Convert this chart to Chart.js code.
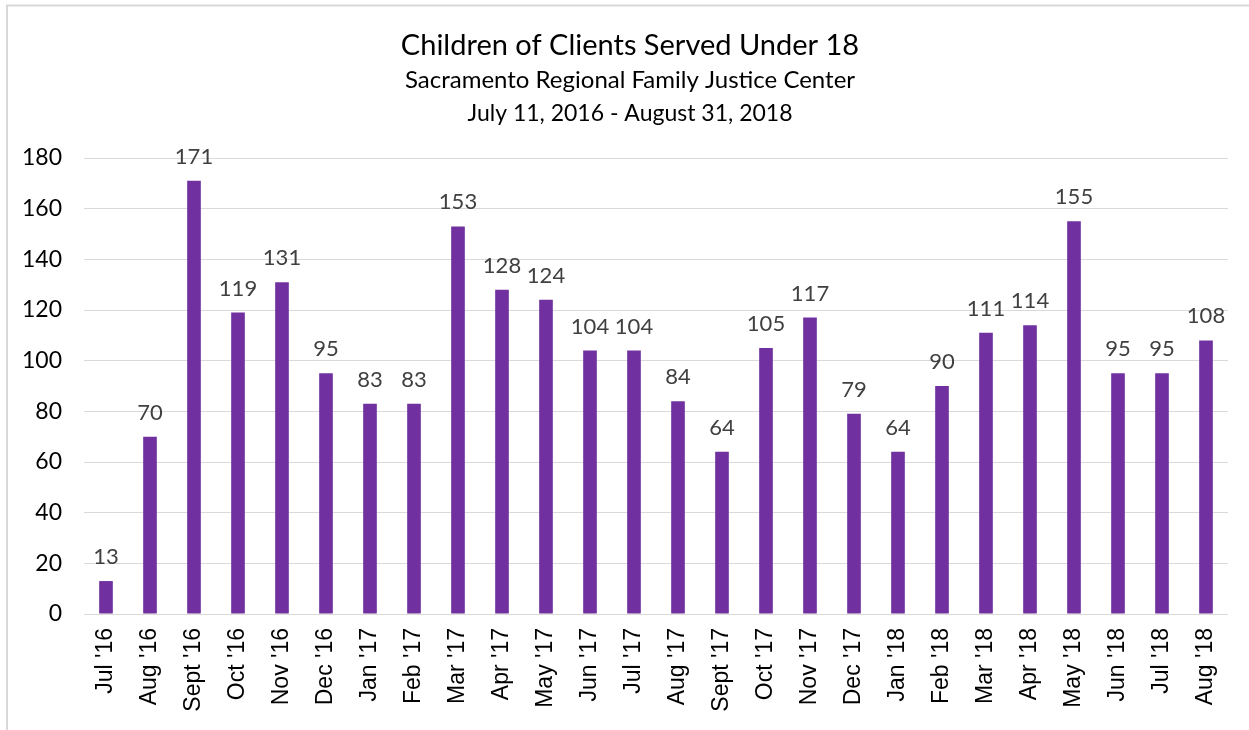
<!DOCTYPE html>
<html>
<head>
<meta charset="utf-8">
<script src="https://cdn.jsdelivr.net/npm/chart.js@4"></script>
<style>
html,body{margin:0;padding:0;background:#fff;}
#wrap{position:absolute;left:0;top:0;width:1249px;height:730px;}
</style>
</head>
<body>
<div id="wrap"><canvas id="c" width="1249" height="730"></canvas></div>
<script>
const categories = ["Jul '16","Aug '16","Sept '16","Oct '16","Nov '16","Dec '16","Jan '17","Feb '17","Mar '17","Apr '17","May '17","Jun '17","Jul '17","Aug '17","Sept '17","Oct '17","Nov '17","Dec '17","Jan '18","Feb '18","Mar '18","Apr '18","May '18","Jun '18","Jul '18","Aug '18"];
const values = [13,70,171,119,131,95,83,83,153,128,124,104,104,84,64,105,117,79,64,90,111,114,155,95,95,108];
const titleLines = ["Children of Clients Served Under 18","Sacramento Regional Family Justice Center","July 11, 2016 - August 31, 2018"];
const yTicks = [0,20,40,60,80,100,120,140,160,180];

const decor = {
  id:'decor',
  beforeDraw(chart){
    const ctx = chart.ctx;
    ctx.save();
    ctx.fillStyle = '#fff';
    ctx.fillRect(0,0,chart.width,chart.height);
    ctx.strokeStyle = '#d9d9d9';
    ctx.lineWidth = 2;
    ctx.beginPath();
    ctx.moveTo(7,730); ctx.lineTo(7,5.5); ctx.lineTo(1249,5.5);
    ctx.stroke();
    ctx.fillStyle = '#000';
    ctx.textAlign = 'center';
    ctx.textBaseline = 'alphabetic';
    ctx.font = '29px Lato';
    ctx.fillText(titleLines[0], 630, 55);
    ctx.font = '24px Lato';
    ctx.fillText(titleLines[1], 630, 88);
    ctx.font = '23px Lato';
    ctx.fillText(titleLines[2], 630, 121);
    ctx.restore();
  },
  afterDatasetsDraw(chart){
    const ctx = chart.ctx;
    const meta = chart.getDatasetMeta(0);
    ctx.save();
    ctx.fillStyle = '#404040';
    ctx.font = '22px Lato';
    ctx.textAlign = 'center';
    ctx.textBaseline = 'alphabetic';
    meta.data.forEach((bar,i)=>{
      ctx.fillText(String(values[i]), bar.x, bar.y - 17);
    });
    ctx.restore();
  }
};

new Chart(document.getElementById('c'), {
  type:'bar',
  data:{
    labels: categories,
    datasets:[{
      data: values,
      backgroundColor:'#7030a0',
      borderWidth:0,
      barPercentage:0.62,
      categoryPercentage:0.5
    }]
  },
  options:{
    responsive:false,
    animation:false,
    devicePixelRatio:1,
    layout:{padding:{left:0,right:21,top:158,bottom:0}},
    plugins:{legend:{display:false},title:{display:false},tooltip:{enabled:false}},
    scales:{
      x:{
        grid:{display:false,drawTicks:false},
        border:{display:false},
        ticks:{color:'#000',font:{family:'Liberation Sans',size:23},minRotation:90,maxRotation:90,padding:14,autoSkip:false},
        afterFit(s){ s.height = 116; }
      },
      y:{
        min:0,max:180,
        afterBuildTicks(s){ s.ticks = yTicks.map(v=>({value:v})); },
        grid:{color:'#d9d9d9',lineWidth:1,drawTicks:false},
        border:{display:false},
        ticks:{color:'#000',font:{family:'Lato',size:23},padding:22},
        afterFit(s){ s.width = 84; }
      }
    }
  },
  plugins:[decor]
});
</script>
</body>
</html>
